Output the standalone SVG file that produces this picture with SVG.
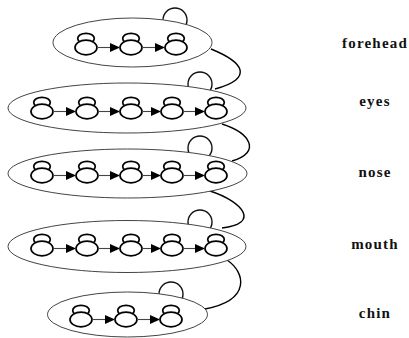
<svg xmlns="http://www.w3.org/2000/svg" width="409" height="338" viewBox="0 0 409 338">
<style>
.loop{fill:none;stroke:#111;stroke-width:1.4}
.grp{fill:#fff;stroke:#444;stroke-width:1}
.up{fill:#fff;stroke:#000;stroke-width:1.7}
.lo{fill:#fff;stroke:#000;stroke-width:1.7}
.ar{stroke:#444;stroke-width:1.1;fill:none;marker-end:url(#ah)}
.con{fill:none;stroke:#000;stroke-width:1.4}
.lbl{font-family:"Liberation Serif","Times New Roman",serif;font-size:15px;font-weight:bold;letter-spacing:1.2px;fill:#111;text-anchor:middle}
</style>
<defs>
<marker id="ah" markerUnits="userSpaceOnUse" markerWidth="10" markerHeight="9" refX="10" refY="4.5" orient="auto">
<path d="M0,0 L10,4.5 L0,9 z" fill="#000"/>
</marker>
<g id="n">
<ellipse class="up" cx="0" cy="-5.5" rx="8.3" ry="5.2"/>
<ellipse class="lo" cx="0" cy="3.5" rx="11" ry="7.3"/>
</g>
</defs>

<g id="connectors">
<path class="con" d="M211,49 C243,62 255,78 215,89"/>
<path class="con" d="M222,124 C250,133 262,152 232,161"/>
<path class="con" d="M210,191 C244,202 260,224 222,228"/>
<path class="con" d="M227,260 C245,272 252,300 205,309"/>
</g>

<g id="forehead">
<circle class="loop" cx="175" cy="20" r="12"/>
<ellipse class="grp" cx="132.5" cy="42.5" rx="79.5" ry="24.5"/>
<use href="#n" x="86" y="44"/>
<use href="#n" x="131" y="44"/>
<use href="#n" x="176" y="44"/>
<line class="ar" x1="97" y1="47.5" x2="120" y2="47.5"/>
<line class="ar" x1="142" y1="47.5" x2="165" y2="47.5"/>
</g>

<g id="eyes">
<circle class="loop" cx="200" cy="84" r="12"/>
<ellipse class="grp" cx="127" cy="108" rx="119" ry="25"/>
<use href="#n" x="42" y="108"/>
<use href="#n" x="87" y="108"/>
<use href="#n" x="131" y="108"/>
<use href="#n" x="172" y="108"/>
<use href="#n" x="216" y="108"/>
<line class="ar" x1="53" y1="111.5" x2="76" y2="111.5"/>
<line class="ar" x1="98" y1="111.5" x2="120" y2="111.5"/>
<line class="ar" x1="142" y1="111.5" x2="161" y2="111.5"/>
<line class="ar" x1="183" y1="111.5" x2="205" y2="111.5"/>
</g>

<g id="nose">
<circle class="loop" cx="200" cy="148" r="12"/>
<ellipse class="grp" cx="127.5" cy="173.5" rx="119.5" ry="24.5"/>
<use href="#n" x="42" y="172"/>
<use href="#n" x="87" y="172"/>
<use href="#n" x="131" y="172"/>
<use href="#n" x="172" y="172"/>
<use href="#n" x="216" y="172"/>
<line class="ar" x1="53" y1="175.5" x2="76" y2="175.5"/>
<line class="ar" x1="98" y1="175.5" x2="120" y2="175.5"/>
<line class="ar" x1="142" y1="175.5" x2="161" y2="175.5"/>
<line class="ar" x1="183" y1="175.5" x2="205" y2="175.5"/>
</g>

<g id="mouth">
<circle class="loop" cx="200" cy="222" r="12"/>
<ellipse class="grp" cx="127" cy="246.5" rx="119" ry="26"/>
<use href="#n" x="42" y="245"/>
<use href="#n" x="87" y="245"/>
<use href="#n" x="131" y="245"/>
<use href="#n" x="172" y="245"/>
<use href="#n" x="216" y="245"/>
<line class="ar" x1="53" y1="248.5" x2="76" y2="248.5"/>
<line class="ar" x1="98" y1="248.5" x2="120" y2="248.5"/>
<line class="ar" x1="142" y1="248.5" x2="161" y2="248.5"/>
<line class="ar" x1="183" y1="248.5" x2="205" y2="248.5"/>
</g>

<g id="chin">
<circle class="loop" cx="171" cy="294" r="12"/>
<ellipse class="grp" cx="127.5" cy="314.5" rx="80" ry="22.5"/>
<use href="#n" x="81" y="316"/>
<use href="#n" x="126" y="316"/>
<use href="#n" x="171" y="316"/>
<line class="ar" x1="92" y1="319.5" x2="115" y2="319.5"/>
<line class="ar" x1="137" y1="319.5" x2="160" y2="319.5"/>
</g>

<g id="labels">
<text class="lbl" x="375" y="48">forehead</text>
<text class="lbl" x="375" y="106">eyes</text>
<text class="lbl" x="375" y="177">nose</text>
<text class="lbl" x="375" y="249">mouth</text>
<text class="lbl" x="375" y="318">chin</text>
</g>
</svg>
